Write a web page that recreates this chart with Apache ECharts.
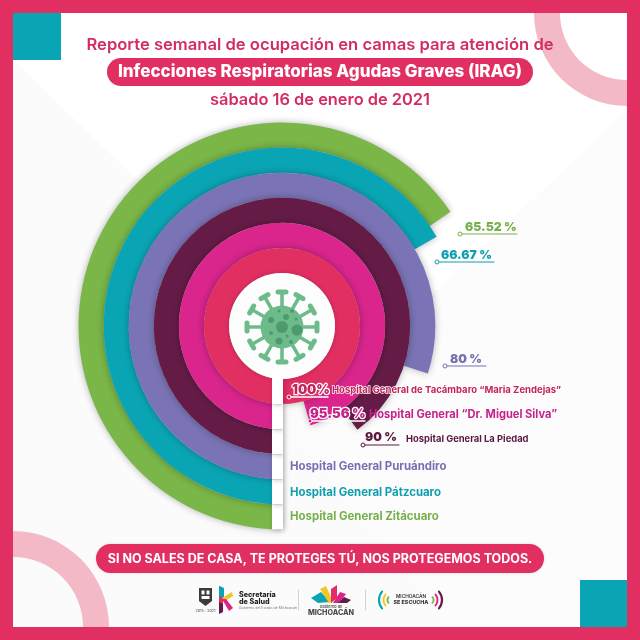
<!DOCTYPE html>
<html lang="es">
<head>
<meta charset="utf-8">
<title>Ocupación IRAG</title>
<style>html,body{margin:0;padding:0;background:#fff}#chart{width:640px;height:640px}</style>
<script src="https://cdn.jsdelivr.net/npm/echarts@6/dist/echarts.min.js"></script>
</head>
<body>
<div id="chart"></div>
<script>
// Hospitals from the outermost ring to the innermost ring
const hospitals = [
  'Hospital General Zitácuaro',
  'Hospital General Pátzcuaro',
  'Hospital General Puruándiro',
  'Hospital General La Piedad',
  'Hospital General “Dr. Miguel Silva”',
  'Hospital General de Tacámbaro “Maria Zendejas”'
];
const occupancy = [65.52, 66.67, 80, 90, 95.56, 100];
const valueTexts = ['65.52 %', '66.67 %', '80 %', '90 %', '95.56 %', '100%'];
const ringColors = ['#7AB648', '#0AA5B5', '#7A74B6', '#641C46', '#D9258C', '#E22F62'];
const textColors = ['#76B04A', '#0E9EAF', '#7570B0', '#5A1840', '#C7218B', '#C4245A'];

const titleLines = [
  'Reporte semanal de ocupación en camas para atención de',
  'Infecciones Respiratorias Agudas Graves (IRAG)',
  'sábado 16 de enero de 2021'
];
const slogan = 'SI NO SALES DE CASA, TE PROTEGES TÚ, NOS PROTEGEMOS TODOS.';

// Page layout
const PINK = '#E22F62', TEAL = '#0AA5B5', BLUSH = '#F4B9C6';
const CX = 282, CY = 326, R0 = 53, R1 = 203.5;
const FF = 'Inter, "Noto Sans", sans-serif';

// Anchor of each value label: dot x, rule y, rule end x, text x, text y, font size
const valueAnchors = [
  [460, 234, 517, 465, 227, 12.2],
  [437, 262, 494, 441, 255, 12.2],
  [445, 366, 486, 450, 359, 12.2],
  [363, 445, 399, 365, 437, 12.2],
  [310, 421, 365, 310, 414, 13],
  [289, 397, 328, 292, 390, 13]
];
// Anchor of each hospital name: x, y, font size
const nameAnchors = [
  [290, 517, 11.45], [290, 493, 11.4], [290, 466.5, 11.4],
  [406, 439, 9.4], [369, 415, 11.1], [332, 390, 9.5]
];

function txt(text, x, y, font, fill, align, extra) {
  return { type: 'text', z: 20, silent: true, style: Object.assign({
    text, x, y, font, fill, align: align || 'left', verticalAlign: 'middle'
  }, extra || {}) };
}
function rect(x, y, w, h, fill, z, r, extra) {
  return { type: 'rect', z: z ?? 1, silent: true, shape: { x, y, width: w, height: h, r: r || 0 },
    style: Object.assign({ fill }, extra || {}) };
}
function poly(points, fill, z) {
  return { type: 'polygon', z: z ?? 20, silent: true, shape: { points }, style: { fill } };
}
function arc(cx, cy, r, a0, a1, stroke, w) {
  return { type: 'arc', z: 20, silent: true,
    shape: { cx, cy, r, startAngle: a0 * Math.PI / 180, endAngle: a1 * Math.PI / 180, clockwise: true },
    style: { stroke, lineWidth: w, fill: 'none', lineCap: 'round' } };
}
function line(x1, y1, x2, y2, stroke, w) {
  return { type: 'line', z: 20, silent: true, shape: { x1, y1, x2, y2 },
    style: { stroke, lineWidth: w, lineCap: 'round' } };
}

const g = [];

// Page background, soft diagonal panels and corner decoration
g.push(rect(0, 0, 640, 640, '#ffffff', 0));
g.push(poly([[13, 60], [13, 627], [600, 627]], '#fbfbfc', 0));
g.push(poly([[627, 110], [627, 627], [450, 627], [290, 430]], '#fcfcfd', 0));
g.push({ type: 'ring', z: 0, silent: true, shape: { cx: 13, cy: 627, r: 96, r0: 70 }, style: { fill: BLUSH } });
g.push({ type: 'ring', z: 0, silent: true, shape: { cx: 627, cy: 13, r: 93, r0: 67 }, style: { fill: BLUSH } });
g.push(rect(13, 13, 48, 47, TEAL, 0));
g.push(rect(580, 580, 47, 47, TEAL, 0));
g.push(rect(0, 0, 640, 13, PINK, 1));
g.push(rect(0, 627, 640, 13, PINK, 1));
g.push(rect(0, 0, 13, 640, PINK, 1));
g.push(rect(627, 0, 13, 640, PINK, 1));

// Heading
g.push(txt(titleLines[0], 320, 45, '600 16.6px ' + FF, '#D22D60', 'center'));
g.push(rect(107, 58, 426, 28, PINK, 5, 14));
g.push(txt(titleLines[1], 320, 72, '800 17px ' + FF, '#ffffff', 'center'));
g.push(txt(titleLines[2], 320, 100, '600 16.4px ' + FF, '#D22D60', 'center'));

// White stem under the hub: one tab per ring, outermost first so each tab shades the next
const bandH = (R1 - R0) / hospitals.length;
for (let i = 0; i < hospitals.length; i++) {
  const top = CY + R1 - bandH * (i + 1);
  g.push(rect(272, top, 11, bandH, '#ffffff', 10, 0, {
    shadowBlur: 5, shadowColor: 'rgba(0,0,0,0.22)', shadowOffsetY: 1, shadowOffsetX: 1
  }));
}

// Hub disc with the virus icon
g.push({ type: 'circle', z: 11, silent: true, shape: { cx: CX, cy: CY, r: R0 },
  style: { fill: '#fdfdfd', shadowBlur: 5, shadowColor: 'rgba(0,0,0,0.2)' } });
g.push(rect(272, 372, 11, 12, '#ffffff', 11));
const VIRUS = '#6DBB8B', SPOT = '#4E9A70';
for (let a = 0; a < 12; a++) {
  const t = a * Math.PI / 6, c = Math.cos(t), s = Math.sin(t);
  const x0 = CX + 18 * c, y0 = CY + 1 + 18 * s, x1 = CX + 35 * c, y1 = CY + 1 + 35 * s;
  g.push(line(x0, y0, x1, y1, VIRUS, 3.6));
  g.push(line(x1 - 4 * s, y1 + 4 * c, x1 + 4 * s, y1 - 4 * c, VIRUS, 5));
}
g.push({ type: 'circle', z: 20, silent: true, shape: { cx: CX, cy: CY + 1, r: 21.5 }, style: { fill: VIRUS } });
[[282, 327, 6], [297, 330, 5.5], [271, 320, 3], [286, 317, 3], [279, 341, 3.5], [291, 342, 2],
 [271, 333, 2], [279, 311, 1.6], [292, 311, 2], [296, 319, 1.5], [287, 336, 1.5]].forEach(p => {
  g.push({ type: 'circle', z: 21, silent: true, shape: { cx: p[0], cy: p[1], r: p[2] }, style: { fill: SPOT } });
});

// Value labels and hospital names; labels over the rings get a white outline behind the fill
hospitals.forEach((name, i) => {
  const v = valueAnchors[i], n = nameAnchors[i];
  const halo = i >= 4 ? { stroke: '#ffffff', lineWidth: 2.4, strokeFirst: true } : {};
  g.push(line(v[0], v[1], v[2], v[1], i >= 4 ? '#ffffff' : textColors[i], i >= 4 ? 1.4 : 1));
  g.push({ type: 'circle', z: 21, silent: true, shape: { cx: v[0], cy: v[1], r: 2 },
    style: { fill: i >= 4 ? textColors[i] : '#ffffff', stroke: i >= 4 ? '#ffffff' : textColors[i], lineWidth: 1 } });
  g.push(txt(valueTexts[i], v[3], v[4], '900 ' + v[5] + 'px ' + FF, textColors[i], 'left', halo));
  g.push(txt(name, n[0], n[1], '700 ' + n[2] + 'px ' + FF, textColors[i], 'left',
    i === 5 ? { stroke: '#ffffff', lineWidth: 1.4, strokeFirst: true } : {}));
});

// Slogan band
g.push(rect(96, 544, 448, 29, PINK, 5, 14.5, { shadowBlur: 3, shadowColor: 'rgba(0,0,0,0.12)' }));
g.push(txt(slogan, 320, 559, '700 12.5px ' + FF, '#ffffff', 'center'));

// Institutional marks in the footer
g.push(poly([[199, 588], [212, 588], [212, 601], [205.5, 606], [199, 601]], '#3b3b3b'));
g.push(rect(201.5, 590.5, 3, 4, '#ffffff', 21));
g.push(rect(206.5, 590.5, 3, 4, '#ffffff', 21));
g.push(rect(201.5, 596, 8, 3, '#ffffff', 21));
g.push(txt('2015 - 2021', 205.5, 611, '500 3.6px ' + FF, '#555555', 'center'));
g.push(poly([[219, 586], [223, 588], [223, 612], [219, 613]], '#E22F62'));
g.push(poly([[219, 586], [224, 588], [224, 598], [219, 596]], TEAL));
g.push(poly([[222, 598], [232, 592], [233, 596], [225, 601]], '#F7C325'));
g.push(poly([[222, 599], [226, 599], [233, 608], [229, 611]], '#D9258C'));
g.push(poly([[219, 602], [223, 604], [223, 612], [219, 614]], '#641C46'));
g.push(txt('Secretaría', 239, 594.5, '800 7.2px ' + FF, '#222222'));
g.push(txt('de Salud', 239, 601.5, '800 7.2px ' + FF, '#222222'));
g.push(txt('Gobierno del Estado de Michoacán', 239, 608, '400 3.5px ' + FF, '#777777'));
g.push(line(298.5, 590, 298.5, 610, '#c8c8c8', 0.8));
g.push(poly([[311, 598], [321, 592], [330, 602], [318, 603]], TEAL));
g.push(poly([[320, 589], [326, 586], [333, 602], [329, 603]], '#F7C325'));
g.push(poly([[331, 603], [331, 589], [337, 585], [337, 598]], '#E22F62'));
g.push(poly([[333, 603], [340, 592], [346, 594], [339, 603]], '#D9258C'));
g.push(poly([[338, 603], [344, 597], [351, 600], [347, 603]], '#641C46'));
g.push(txt('Gobierno de', 331, 606.5, '600 3.8px ' + FF, '#555555', 'center'));
g.push(txt('MICHOACÁN', 331, 612.5, '800 7.2px ' + FF, '#4a4a4a', 'center'));
g.push(line(365.5, 590, 365.5, 610, '#c8c8c8', 0.8));
g.push(arc(392, 600, 13, 140, 220, TEAL, 2.2));
g.push(arc(392, 600, 8.5, 140, 220, '#F7C325', 2));
g.push(arc(392, 600, 4.5, 140, 220, '#7AB648', 1.8));
g.push(arc(429, 600, 4.5, -40, 40, '#7AB648', 1.8));
g.push(arc(429, 600, 8.5, -40, 40, '#D9258C', 2));
g.push(arc(429, 600, 13, -40, 40, '#641C46', 2.2));
g.push(txt('MICHOACÁN', 411, 597, '600 4.8px ' + FF, '#333333', 'center'));
g.push(txt('SE ESCUCHA', 411, 602.5, '800 5.4px ' + FF, '#333333', 'center'));

const chart = echarts.init(document.getElementById('chart'), null, { renderer: 'canvas' });
chart.setOption({
  animation: false,
  tooltip: { show: false },
  polar: { center: [CX, CY], radius: [R0, R1] },
  angleAxis: { type: 'value', min: 0, max: 100, startAngle: 270, clockwise: true, show: false },
  radiusAxis: { type: 'category', data: hospitals, inverse: true, show: false },
  series: [{
    type: 'bar',
    coordinateSystem: 'polar',
    barCategoryGap: '0%',
    silent: true,
    z: 2,
    data: occupancy.map((value, i) => ({
      value,
      itemStyle: { color: ringColors[i], shadowBlur: 7, shadowColor: 'rgba(0,0,0,0.3)' }
    }))
  }],
  graphic: { elements: g }
});
</script>
</body>
</html>
